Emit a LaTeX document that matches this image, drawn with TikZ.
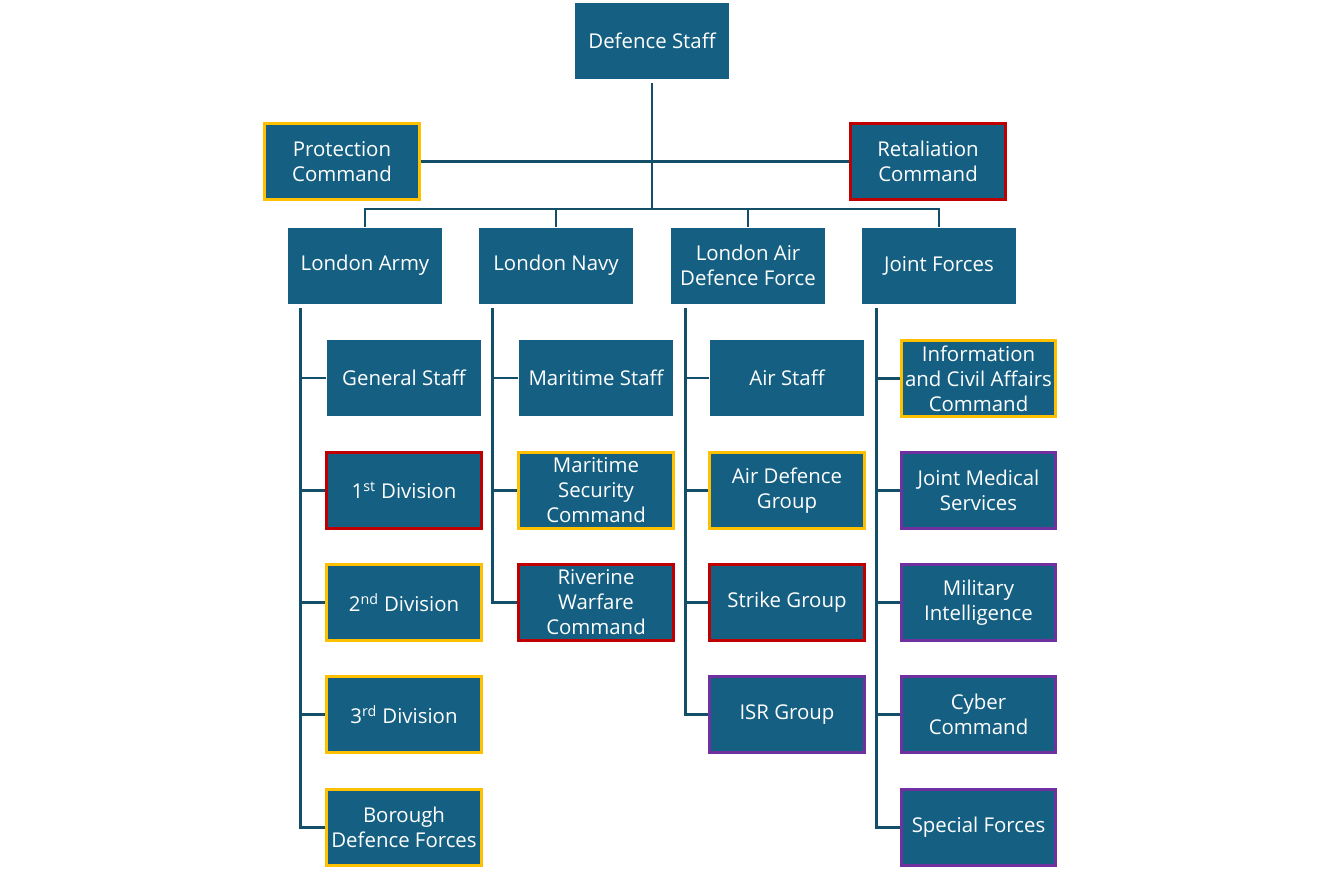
\documentclass[tikz,border=0pt]{standalone}
\usepackage{fontspec}
\setmainfont{Open Sans}
\usetikzlibrary{positioning}

\definecolor{unitfill}{HTML}{156082}
\definecolor{linkline}{HTML}{134F69}
\definecolor{goldedge}{HTML}{FFC000}
\definecolor{rededge}{HTML}{C00000}
\definecolor{purpleedge}{HTML}{7030A0}

\tikzset{
    unit/.style={fill=unitfill, text=white, minimum width=116pt, minimum height=57pt,
        inner sep=0.5pt, align=center, font=\fontsize{15.3}{18.75}\selectfont},
    goldunit/.style={unit, draw=goldedge, line width=2.2pt},
    redunit/.style={unit, draw=rededge, line width=2.2pt},
    purpleunit/.style={unit, draw=purpleedge, line width=2.2pt},
    link/.style={draw=linkline, line width=2.2pt}
}

\begin{document}
\begin{tikzpicture}[x=0.75pt, y=-0.75pt]
        \useasboundingbox (0,0) rectangle (1343,869);
        % top of the tree
        \node[unit] (staff) at (652,41) {Defence Staff};
        \node[goldunit] (protect) at (342,161.5) {Protection\\Command};
        \node[redunit] (retal) at (928,161.5) {Retaliation\\Command};
        \coordinate (hub) at (652,209);
        % services
        \node[unit] (army) at (365,265.5) {London Army};
        \node[unit] (navy) at (556,265.5) {London Navy};
        \node[unit] (air) at (748,265.5) {London Air\\Defence Force};
        \node[unit] (joint) at (939,265.5) {Joint Forces};
        % army
        \node[unit] (genstaff) at (404,378) {General Staff};
        \node[redunit] (div1) at (404,490.5) {1\textsuperscript{st} Division};
        \node[goldunit] (div2) at (404,602.5) {2\textsuperscript{nd} Division};
        \node[goldunit] (div3) at (404,714.5) {3\textsuperscript{rd} Division};
        \node[goldunit] (borough) at (404,827.5) {Borough\\Defence Forces};
        % navy
        \node[unit] (marstaff) at (596,378) {Maritime Staff};
        \node[goldunit] (marsec) at (596,490.5) {Maritime\\Security\\Command};
        \node[redunit] (riverine) at (596,602.5) {Riverine\\Warfare\\Command};
        % air
        \node[unit] (airstaff) at (787,378) {Air Staff};
        \node[goldunit] (airdef) at (787,490.5) {Air Defence\\Group};
        \node[redunit] (strike) at (787,602.5) {Strike Group};
        \node[purpleunit] (isr) at (787,714.5) {ISR Group};
        % joint
        \node[goldunit] (infociv) at (978.5,378.5) {Information\\and Civil Affairs\\Command};
        \node[purpleunit] (medical) at (978.5,490.5) {Joint Medical\\Services};
        \node[purpleunit] (intel) at (978.5,602.5) {Military\\Intelligence};
        \node[purpleunit] (cyber) at (978.5,714.5) {Cyber\\Command};
        \node[purpleunit] (special) at (978.5,827.5) {Special Forces};

        % connectors
        \draw[link, shorten <=3pt] (staff.south) -- (hub);
        \draw[link] (protect.east) -- (retal.west);
        \draw[link] (army.north) |- (hub) -| (joint.north);
        \draw[link] (navy.north) -- (navy.north |- hub);
        \draw[link] (air.north) -- (air.north |- hub);

        \coordinate (armyspine) at ([xshift=10pt]army.south west);
        \coordinate (navyspine) at ([xshift=10.5pt]navy.south west);
        \coordinate (airspine) at ([xshift=11pt]air.south west);
        \coordinate (jointspine) at ([xshift=11pt]joint.south west);

        \draw[link, shorten <=3pt] (armyspine) |- (borough.west);
        \foreach \c in {genstaff,div1,div2,div3}
            \draw[link] (armyspine |- \c.west) -- (\c.west);
        \draw[link, shorten <=3pt] (navyspine) |- (riverine.west);
        \foreach \c in {marstaff,marsec}
            \draw[link] (navyspine |- \c.west) -- (\c.west);
        \draw[link, shorten <=3pt] (airspine) |- (isr.west);
        \foreach \c in {airstaff,airdef,strike}
            \draw[link] (airspine |- \c.west) -- (\c.west);
        \draw[link, shorten <=3pt] (jointspine) |- (special.west);
        \foreach \c in {infociv,medical,intel,cyber}
            \draw[link] (jointspine |- \c.west) -- (\c.west);
\end{tikzpicture}
\end{document}
